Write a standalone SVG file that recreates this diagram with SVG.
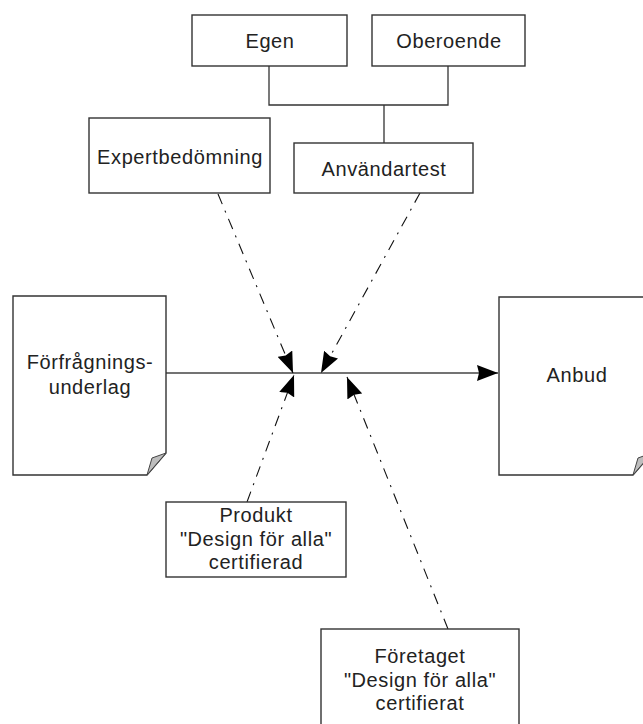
<svg xmlns="http://www.w3.org/2000/svg" width="643" height="724" viewBox="0 0 643 724">
<style>
.box{fill:#fff;stroke:#333;stroke-width:1.4}
.fold{fill:#bdbdbd;stroke:#444;stroke-width:1}
.t{font-family:"Liberation Sans",Arial,sans-serif;font-size:20px;letter-spacing:0.6px;fill:#222;text-anchor:middle}
.tree{fill:none;stroke:#333;stroke-width:1.3}
.main{fill:none;stroke:#444;stroke-width:1.6}
.dash{fill:none;stroke:#111;stroke-width:1.1;stroke-dasharray:11 7 2 7}
</style>
<defs>
<marker id="arr" markerUnits="userSpaceOnUse" viewBox="0 0 22 16" markerWidth="22" markerHeight="16" refX="21" refY="8" orient="auto">
<path d="M0,0 L21,8 L0,16 L2,8 Z" fill="#000"/>
</marker>
</defs>
<rect width="643" height="724" fill="#fff"/>
<g id="connectors">
<path class="tree" d="M269,66 V105 H448 V66 M384,105 V143"/>
<line class="main" x1="166" y1="373" x2="498" y2="373" marker-end="url(#arr)"/>
<line class="dash" x1="218" y1="194" x2="293" y2="373" marker-end="url(#arr)"/>
<line class="dash" x1="420" y1="193" x2="321" y2="373" marker-end="url(#arr)"/>
<line class="dash" x1="247" y1="502" x2="294" y2="375" marker-end="url(#arr)"/>
<line class="dash" x1="448" y1="629" x2="347" y2="377" marker-end="url(#arr)"/>
</g>
<g id="egen">
<rect class="box" x="192" y="15" width="155" height="51"/>
<text class="t" x="270" y="48">Egen</text>
</g>
<g id="oberoende">
<rect class="box" x="372" y="15" width="153" height="51"/>
<text class="t" x="449" y="48">Oberoende</text>
</g>
<g id="expertbedomning">
<rect class="box" x="89" y="118" width="181" height="75"/>
<text class="t" x="180" y="164">Expertbedömning</text>
</g>
<g id="anvandartest">
<rect class="box" x="294" y="143" width="179" height="50"/>
<text class="t" x="384" y="176">Användartest</text>
</g>
<g id="forfragningsunderlag">
<path class="box" d="M13,296 H166 V453 L147,475 H13 Z"/>
<path class="fold" d="M166,453 L152,458 L147,475 Z"/>
<text class="t" x="90" y="369">Förfrågnings-</text>
<text class="t" x="90" y="394">underlag</text>
</g>
<g id="anbud">
<path class="box" d="M499,297 H652 V453 L633,475 H499 Z"/>
<path class="fold" d="M652,453 L638,458 L633,475 Z"/>
<text class="t" x="577" y="382">Anbud</text>
</g>
<g id="produkt">
<rect class="box" x="166" y="502" width="180" height="75"/>
<text class="t" x="256" y="522">Produkt</text>
<text class="t" x="256" y="546">"Design för alla"</text>
<text class="t" x="256" y="569">certifierad</text>
</g>
<g id="foretaget">
<rect class="box" x="321" y="629" width="198" height="110"/>
<text class="t" x="420" y="663">Företaget</text>
<text class="t" x="420" y="687">"Design för alla"</text>
<text class="t" x="420" y="710">certifierat</text>
</g>
</svg>
